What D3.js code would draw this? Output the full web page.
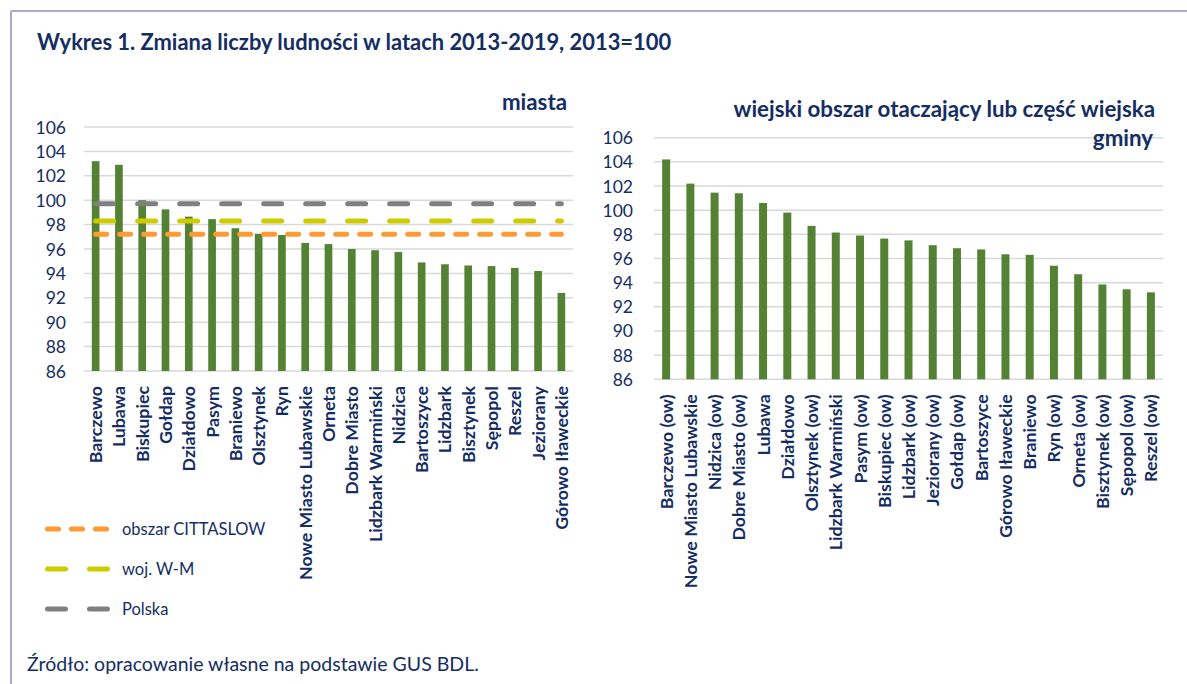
<!DOCTYPE html>
<html>
<head>
<meta charset="utf-8">
<script src="https://cdn.jsdelivr.net/npm/d3@7"></script>
<style>
  body { margin: 0; background: #fff; }
  svg { display: block; font-family: Lato, "Open Sans", sans-serif; }
</style>
</head>
<body>
<svg id="svg" width="1187" height="684"></svg>
<script>
const cityNames = ["Barczewo", "Lubawa", "Biskupiec", "Gołdap", "Działdowo", "Pasym", "Braniewo", "Olsztynek", "Ryn", "Nowe Miasto Lubawskie", "Orneta", "Dobre Miasto", "Lidzbark Warmiński", "Nidzica", "Bartoszyce", "Lidzbark", "Bisztynek", "Sępopol", "Reszel", "Jeziorany", "Górowo Iławeckie"];
const cityValues = [103.2, 102.9, 100.0, 99.25, 98.65, 98.45, 97.7, 97.25, 97.15, 96.5, 96.4, 96.0, 95.9, 95.75, 94.9, 94.75, 94.65, 94.6, 94.45, 94.2, 92.4];

const ruralNames = ["Barczewo (ow)", "Nowe Miasto Lubawskie", "Nidzica (ow)", "Dobre Miasto (ow)", "Lubawa", "Działdowo", "Olsztynek (ow)", "Lidzbark Warmiński", "Pasym (ow)", "Biskupiec (ow)", "Lidzbark (ow)", "Jeziorany (ow)", "Gołdap (ow)", "Bartoszyce", "Górowo Iławeckie", "Braniewo", "Ryn (ow)", "Orneta (ow)", "Bisztynek (ow)", "Sępopol (ow)", "Reszel (ow)"];
const ruralValues = [104.2, 102.2, 101.45, 101.4, 100.6, 99.8, 98.7, 98.15, 97.9, 97.65, 97.5, 97.1, 96.85, 96.75, 96.35, 96.3, 95.4, 94.7, 93.85, 93.45, 93.2];

const yTicks = [86, 88, 90, 92, 94, 96, 98, 100, 102, 104, 106];

const refNames = ["obszar CITTASLOW", "woj. W-M", "Polska"];
const refValues = [97.2, 98.3, 99.7];
const refColors = ["#ff9933", "#cccc00", "#808080"];
const refDash = ["11 13", "18 24", "18 24"];

const navy = "#142d62";
const svg = d3.select("#svg");

// frame
svg.append("line").attr("x1", 11).attr("y1", 11).attr("x2", 1187).attr("y2", 11)
  .attr("stroke", "#b4a5cf").attr("stroke-width", 2);
svg.append("line").attr("x1", 11).attr("y1", 11).attr("x2", 11).attr("y2", 684)
  .attr("stroke", "#b4a5cf").attr("stroke-width", 2);

svg.append("text")
  .attr("x", 37).attr("y", 50)
  .attr("fill", navy).attr("font-weight", "bold").attr("font-size", 21.9)
  .text("Wykres 1. Zmiana liczby ludności w latach 2013-2019, 2013=100");

const drawPanel = (names, values, left, right, top, bottom, labelX) => {
  const x = d3.scaleBand().domain(names.map((_, i) => i)).range([left, right]);
  const y = d3.scaleLinear().domain([86, 106]).range([bottom, top]);
  const g = svg.append("g");

  yTicks.forEach(t => {
    g.append("line")
      .attr("x1", left).attr("x2", right)
      .attr("y1", y(t)).attr("y2", y(t))
      .attr("stroke", "#d9d9d9").attr("stroke-width", 1.5);
    g.append("text")
      .attr("x", labelX).attr("y", y(t) + 6.5)
      .attr("text-anchor", "end")
      .attr("fill", navy).attr("font-size", 17.5)
      .text(t);
  });

  const bw = x.bandwidth() * 0.33;
  values.forEach((v, i) => {
    g.append("rect")
      .attr("x", x(i) + x.bandwidth() / 2 - bw / 2)
      .attr("y", y(v))
      .attr("width", bw)
      .attr("height", y(86) - y(v))
      .attr("fill", "#548235");
  });

  names.forEach((n, i) => {
    g.append("text")
      .attr("transform", `translate(${x(i) + x.bandwidth() / 2 + 6.5},${bottom + 15}) rotate(-90)`)
      .attr("text-anchor", "end")
      .attr("fill", navy).attr("font-weight", "bold").attr("font-size", 17.8)
      .text(n);
  });
  return { x, y, g };
};

const cities = drawPanel(cityNames, cityValues, 84, 573, 127, 371, 66);
drawPanel(ruralNames, ruralValues, 654, 1163, 137.7, 379.3, 633);

// reference lines on the city panel
refValues.forEach((v, k) => {
  const { x, y, g } = cities;
  const line = d3.line()
    .x(i => x(i) + x.bandwidth() / 2)
    .y(() => y(v));
  g.append("path")
    .attr("d", line([0, cityNames.length - 1]))
    .attr("fill", "none")
    .attr("stroke", refColors[k])
    .attr("stroke-width", 5)
    .attr("stroke-linecap", "round")
    .attr("stroke-dasharray", refDash[k]);
});

svg.append("text")
  .attr("x", 567).attr("y", 110)
  .attr("text-anchor", "end")
  .attr("fill", navy).attr("font-weight", "bold").attr("font-size", 22.3)
  .text("miasta");
svg.append("text")
  .attr("x", 1155).attr("y", 117)
  .attr("text-anchor", "end")
  .attr("fill", navy).attr("font-weight", "bold").attr("font-size", 22.3)
  .text("wiejski obszar otaczający lub część wiejska");
svg.append("text")
  .attr("x", 1153).attr("y", 146)
  .attr("text-anchor", "end")
  .attr("fill", navy).attr("font-weight", "bold").attr("font-size", 22.3)
  .text("gminy");

// legend
refNames.forEach((n, k) => {
  const ly = 529 + k * 40;
  svg.append("line")
    .attr("x1", 47.5).attr("x2", k === 0 ? 106.5 : 107.5)
    .attr("y1", ly).attr("y2", ly)
    .attr("stroke", refColors[k])
    .attr("stroke-width", 5)
    .attr("stroke-linecap", "round")
    .attr("stroke-dasharray", refDash[k]);
  svg.append("text")
    .attr("x", 122).attr("y", ly + 6)
    .attr("fill", navy).attr("font-size", 16.5)
    .text(n);
});

svg.append("text")
  .attr("x", 27).attr("y", 671)
  .attr("fill", navy).attr("font-size", 19.5)
  .text("Źródło: opracowanie własne na podstawie GUS BDL.");
</script>
</body>
</html>
